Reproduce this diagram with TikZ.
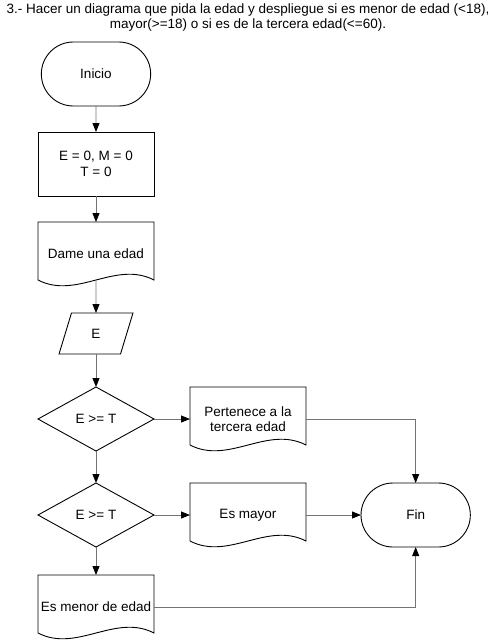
\documentclass[tikz,border=0pt]{standalone}
\usepackage{fontspec}
\setmainfont{Liberation Sans}
\usetikzlibrary{shapes.geometric,shapes.misc,arrows.meta,positioning}

\begin{document}
\begin{tikzpicture}[
    x=1pt, y=1pt,
    line width=0.9pt,
    font=\fontsize{13.5}{15.5}\selectfont,
    node distance=26pt,
    every node/.style={outer sep=0pt},
    term/.style={draw, rounded rectangle, minimum width=116pt, minimum height=64pt},
    proc/.style={draw, rectangle, align=center, minimum width=116pt, minimum height=64pt},
    doc/.style={rectangle, align=center, inner xsep=2pt, minimum width=116pt, minimum height=64pt},
    io/.style={draw, trapezium, trapezium left angle=76, trapezium right angle=104, trapezium stretches=true, minimum width=74pt, minimum height=41pt},
    decision/.style={draw, diamond, aspect=1.8, inner sep=1pt, minimum width=116pt, minimum height=64pt},
    line/.style={draw=black!55, -{Triangle[black, length=9pt, width=7pt]}}
]
    \useasboundingbox (0,0) rectangle (497,-640);

    % Title
    \node[align=center] (title) at (248,-17.5) {3.- Hacer un diagrama que pida la edad y despliegue si es menor de edad (<18),\\mayor(>=18) o si es de la tercera edad(<=60).};

    % Main column
    \node[term] (inicio) at (96,-74) {Inicio};
    \node[proc, below=of inicio] (init) {E = 0, M = 0\\T = 0};
    \node[doc, below=of init] (dame) {Dame una edad};
    \node[io, below=27pt of dame] (leer) {E};
    \node[decision, below=33pt of leer] (dec1) {E >= T};
    \node[decision, below=32pt of dec1] (dec2) {E >= T};
    \node[doc, below=28pt of dec2] (menor) {Es menor de edad};

    % Outputs
    \node[doc, right=36pt of dec1] (perte) {Pertenece a la\\tercera edad};
    \node[doc, right=36pt of dec2] (mayor) {Es mayor};
    \node[term, right=55pt of mayor] (fin) {Fin};

    % Document outlines
    \foreach \n in {dame, perte, mayor, menor}
        \draw ([yshift=6pt]\n.south west) -- (\n.north west) -- (\n.north east) -- ([yshift=6pt]\n.south east)
            .. controls +(-38.7,20) and +(38.7,-20) .. ([yshift=6pt]\n.south west);

    % Arrows
    \draw[line] (inicio) -- (init);
    \draw[line] (init) -- (dame);
    \draw[line] ([yshift=6pt]dame.south) -- (leer);
    \draw[line] (leer) -- (dec1);
    \draw[line] (dec1) -- (dec2);
    \draw[line] (dec2) -- (menor);
    \draw[line] (dec1) -- (perte);
    \draw[line] (dec2) -- (mayor);
    \draw[line] (perte) -| (fin);
    \draw[line] (mayor) -- (fin);
    \draw[line] (menor) -| (fin);
\end{tikzpicture}
\end{document}
